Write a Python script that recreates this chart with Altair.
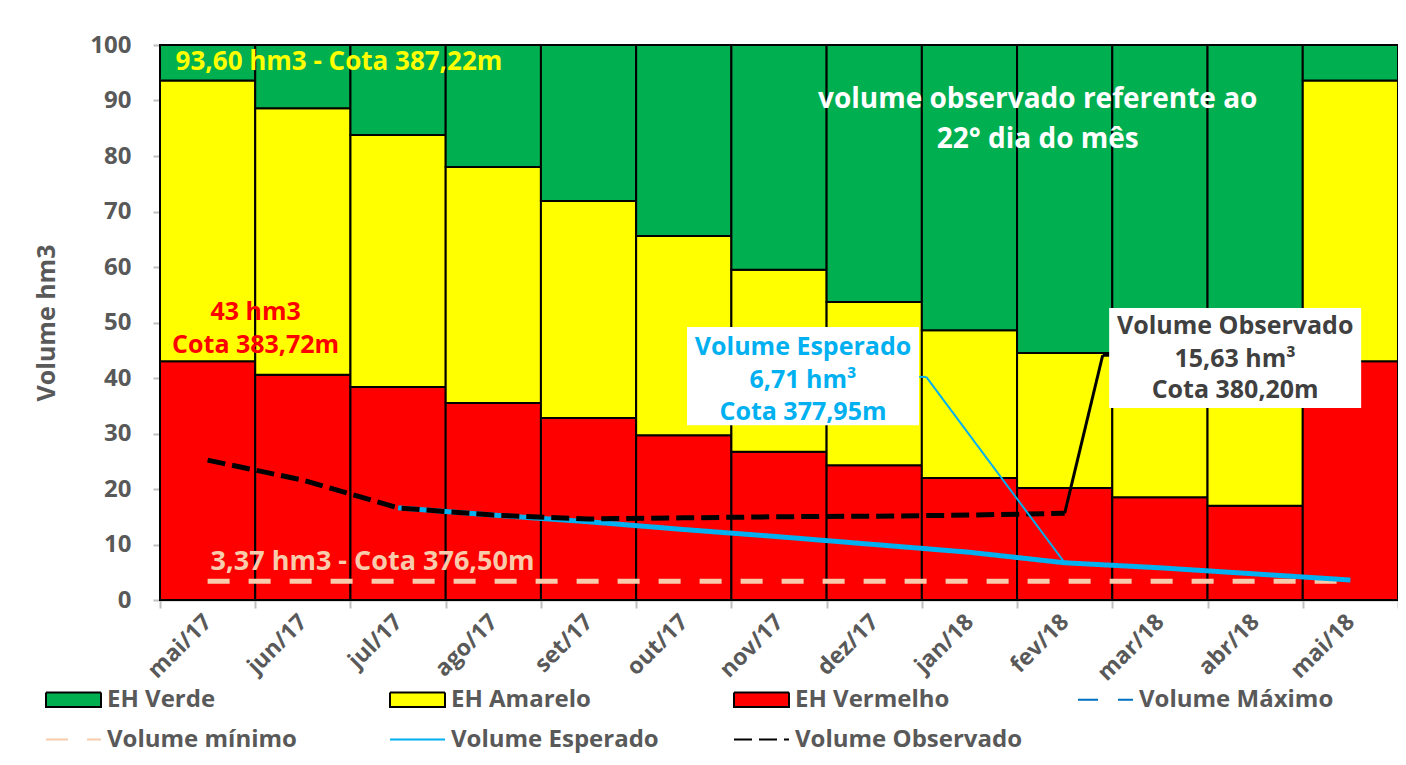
import altair as alt
import pandas as pd

# ---------------- data ----------------
meses = ["mai/17", "jun/17", "jul/17", "ago/17", "set/17", "out/17", "nov/17",
         "dez/17", "jan/18", "fev/18", "mar/18", "abr/18", "mai/18"]
eh_vermelho_topo = [43.0, 40.6, 38.4, 35.5, 32.8, 29.7, 26.7, 24.3, 22.0, 20.2, 18.5, 17.0, 43.0]
eh_amarelo_topo = [93.6, 88.6, 83.8, 78.0, 71.9, 65.6, 59.5, 53.7, 48.6, 44.5, 41.0, 38.0, 93.6]
eh_verde_topo = [100, 100, 100, 100, 100, 100, 100, 100, 100, 100, 100, 100, 100]
volume_observado = [25.2, 21.6, 16.6, 15.3, 14.6, 14.8, 15.0, 15.1, 15.3, 15.63, None, None, None]
volume_esperado = [None, None, 16.6, 15.3, 14.1, 12.7, 11.4, 10.0, 8.6, 6.71, 5.8, 4.7, 3.6]
volume_minimo = [3.37, 3.37, 3.37, 3.37, 3.37, 3.37, 3.37, 3.37, 3.37, 3.37, 3.37, 3.37, 3.37]

series = ["EH Verde", "EH Amarelo", "EH Vermelho", "Volume Máximo",
          "Volume mínimo", "Volume Esperado", "Volume Observado"]
cores_fill = ["#00B050", "#FFFF00", "#FF0000", "transparent", "transparent", "transparent", "transparent"]
cores_stroke = ["#000000", "#000000", "#000000", "#0070C0", "#F8CBAD", "#00B0F0", "#000000"]
tracos = [[1, 0], [1, 0], [1, 0], [20, 20], [22, 19], [1, 0], [18, 7]]
espessuras_legenda = [2, 2, 2, 6, 6, 6, 6]
rect_path = "M-2.2,-0.58L2.2,-0.58L2.2,0.58L-2.2,0.58Z"
line_path = "M-2.2,0L2.2,0"
formas = [rect_path, rect_path, rect_path, line_path, line_path, line_path, line_path]

# annotation texts and anchors (month, value)
rotulo_max = ["93,60 hm3 - Cota 387,22m"]
rotulo_max_pos = [("mai/17", 96.9)]
rotulo_alerta = ["43 hm3", "Cota 383,72m"]
rotulo_alerta_pos = [("mai/17", 51.9), ("mai/17", 45.9)]
rotulo_min = ["3,37 hm3 - Cota 376,50m"]
rotulo_min_pos = [("mai/17", 6.9)]
nota = ["volume observado referente ao", "22° dia do mês"]
nota_pos = [("fev/18", 90.1), ("fev/18", 82.9)]
caixa_esp_texto = ["Volume Esperado", "6,71 hm³", "Cota 377,95m"]
caixa_esp_valores = [45.6, 39.6, 33.9]
caixa_esp_mes = "nov/17"
caixa_esp_faixa = [31.5, 49.2]
caixa_obs_texto = ["Volume Observado", "15,63 hm³", "Cota 380,20m"]
caixa_obs_valores = [49.4, 43.4, 37.8]
caixa_obs_mes = "abr/18"
caixa_obs_faixa = [34.6, 52.6]
guia_esp = [("dez/17", 40.2, "fev/18", 6.71)]
guia_esp_h = [("dez/17", 40.2, "dez/17", 40.2)]
guia_obs = [("fev/18", 15.63, "fev/18", 44.1)]
guia_obs_h = [("fev/18", 44.1, "fev/18", 44.1)]

# ---------------- tables ----------------
linhas_barras = []
for i, m in enumerate(meses):
    linhas_barras.append({"mes": m, "serie": "EH Vermelho", "base": 0, "topo": eh_vermelho_topo[i]})
    linhas_barras.append({"mes": m, "serie": "EH Amarelo", "base": eh_vermelho_topo[i], "topo": eh_amarelo_topo[i]})
    linhas_barras.append({"mes": m, "serie": "EH Verde", "base": eh_amarelo_topo[i], "topo": eh_verde_topo[i]})
df_barras = pd.DataFrame(linhas_barras)


def serie_df(nome, valores):
    d = pd.DataFrame({"mes": meses, "valor": valores, "serie": nome})
    return d.dropna()


df_obs = serie_df("Volume Observado", volume_observado)
df_esp = serie_df("Volume Esperado", volume_esperado)
df_min = serie_df("Volume mínimo", volume_minimo)
df_leg = pd.DataFrame({"serie": series, "mes": meses[0], "valor": -50})

FONT = "Open Sans"
GREY = "#595959"

x_scale = alt.Scale(domain=meses, paddingInner=0, paddingOuter=0)
y_scale = alt.Scale(domain=[0, 100], nice=False)
fill_scale = alt.Scale(domain=series, range=cores_fill)
stroke_scale = alt.Scale(domain=series, range=cores_stroke)
dash_scale = alt.Scale(domain=series, range=tracos)
shape_scale = alt.Scale(domain=series, range=formas)
width_scale = alt.Scale(domain=series, range=espessuras_legenda)

x_axis = alt.Axis(title=None, labelAngle=-45, labelAlign="right", labelBaseline="middle",
                  labelFontSize=23, labelPadding=10, tickBand="extent", tickSize=8,
                  labelFont=FONT, labelFontWeight="bold", labelColor=GREY)
y_axis = alt.Axis(title="Volume hm3", values=[0, 10, 20, 30, 40, 50, 60, 70, 80, 90, 100],
                  labelFontSize=24, labelPadding=22, tickSize=7,
                  titleFont=FONT, titleFontSize=25, titleFontWeight="bold", titleColor=GREY,
                  titlePadding=30, labelFont=FONT, labelFontWeight="bold", labelColor=GREY)

leg = alt.Legend(title=None, orient="none", legendX=-115, legendY=641, direction="horizontal",
                 columns=4, columnPadding=50, rowPadding=14, symbolSize=625,
                 labelFont=FONT, labelFontWeight="bold", labelFontSize=24, labelColor=GREY,
                 labelOffset=20, labelLimit=400, symbolFillColor="transparent", gridAlign="all",
                 symbolOffset=15, labelBaseline="middle", symbolOpacity=1)


def X(campo):
    return alt.X(campo, type="nominal", scale=x_scale, sort=meses, axis=x_axis)


def Y(campo):
    return alt.Y(campo, type="quantitative", scale=y_scale, axis=y_axis)


# invisible (clipped) layer that carries the combined legend; placed first so its
# legend encoding is the one kept when the legends are merged
legenda = alt.Chart(df_leg).mark_point(clip=True, filled=True, opacity=1).encode(
    x=X("mes"),
    y=Y("valor"),
    fill=alt.Fill("serie:N", scale=fill_scale, legend=leg, title=None),
    stroke=alt.Stroke("serie:N", scale=stroke_scale, legend=leg, title=None),
    strokeDash=alt.StrokeDash("serie:N", scale=dash_scale, legend=leg, title=None),
    shape=alt.Shape("serie:N", scale=shape_scale, legend=leg, title=None),
    strokeWidth=alt.StrokeWidth("serie:O", scale=width_scale, legend=leg, title=None),
)

barras = alt.Chart(df_barras).mark_bar(stroke="black", strokeWidth=2).encode(
    x=X("mes"),
    y=Y("base"),
    y2="topo:Q",
    fill=alt.Fill("serie:N", scale=fill_scale, legend=leg, title=None),
)


def linha(df):
    return alt.Chart(df).mark_line(strokeWidth=5).encode(
        x=X("mes"),
        y=Y("valor"),
        stroke=alt.Stroke("serie:N", scale=stroke_scale, legend=leg, title=None),
        strokeDash=alt.StrokeDash("serie:N", scale=dash_scale, legend=leg, title=None),
    )


def textos(rotulos, posicoes, cor, tamanho, align="center", dx=0):
    d = pd.DataFrame({"texto": rotulos, "mes": [p[0] for p in posicoes], "valor": [p[1] for p in posicoes]})
    return alt.Chart(d).mark_text(font=FONT, fontWeight="bold", fontSize=tamanho, color=cor,
                                  align=align, baseline="middle", dx=dx).encode(
        x=X("mes"),
        y=Y("valor"),
        text="texto:N",
    )


def caixa(mes, faixa, largura, desloc):
    d = pd.DataFrame({"mes": [mes], "y0": [faixa[0]], "y1": [faixa[1]]})
    return alt.Chart(d).mark_bar(fill="white", width=largura, xOffset=desloc).encode(
        x=X("mes"),
        y=Y("y0"),
        y2="y1:Q",
    )


def guia(pares, cor, largura, off1, off2):
    d = pd.DataFrame({"m1": [p[0] for p in pares], "v1": [p[1] for p in pares],
                      "m2": [p[2] for p in pares], "v2": [p[3] for p in pares]})
    return alt.Chart(d).mark_rule(color=cor, strokeWidth=largura, xOffset=off1, x2Offset=off2).encode(
        x=X("m1"),
        x2="m2:N",
        y=Y("v1"),
        y2="v2:Q",
    )


chart = alt.layer(
    legenda,
    barras,
    linha(df_min),
    linha(df_esp),
    linha(df_obs),
    guia(guia_esp, "#00B0F0", 2, 52, 0),
    guia(guia_esp_h, "#00B0F0", 2, 45, 52),
    guia(guia_obs, "#000000", 3, 0, 38),
    guia(guia_obs_h, "#000000", 3, 38, 46),
    caixa(caixa_esp_mes, caixa_esp_faixa, 232, 24),
    caixa(caixa_obs_mes, caixa_obs_faixa, 252, -20),
    textos(rotulo_max, rotulo_max_pos, "#FFFF00", 26, "left", -32),
    textos(rotulo_alerta, rotulo_alerta_pos, "#FF0000", 25, "center", 48),
    textos(rotulo_min, rotulo_min_pos, "#F8CBAD", 27, "left", 3),
    textos(nota, nota_pos, "#FFFFFF", 28, "center", -27),
    textos(caixa_esp_texto, [(caixa_esp_mes, v) for v in caixa_esp_valores], "#00B0F0", 25, "center", 24),
    textos(caixa_obs_texto, [(caixa_obs_mes, v) for v in caixa_obs_valores], "#404040", 25, "center", -20),
).properties(
    width=1238, height=555,
    autosize=alt.AutoSizeParams(type="none"),
    padding={"left": 152, "top": 37, "right": 0, "bottom": 157},
).configure_view(stroke=None).configure_axis(
    grid=False, domainColor="#BFBFBF", domainWidth=2, tickColor="#BFBFBF", tickWidth=2,
)

chart.save("out.html", embed_options={"renderer": "svg", "actions": False})
